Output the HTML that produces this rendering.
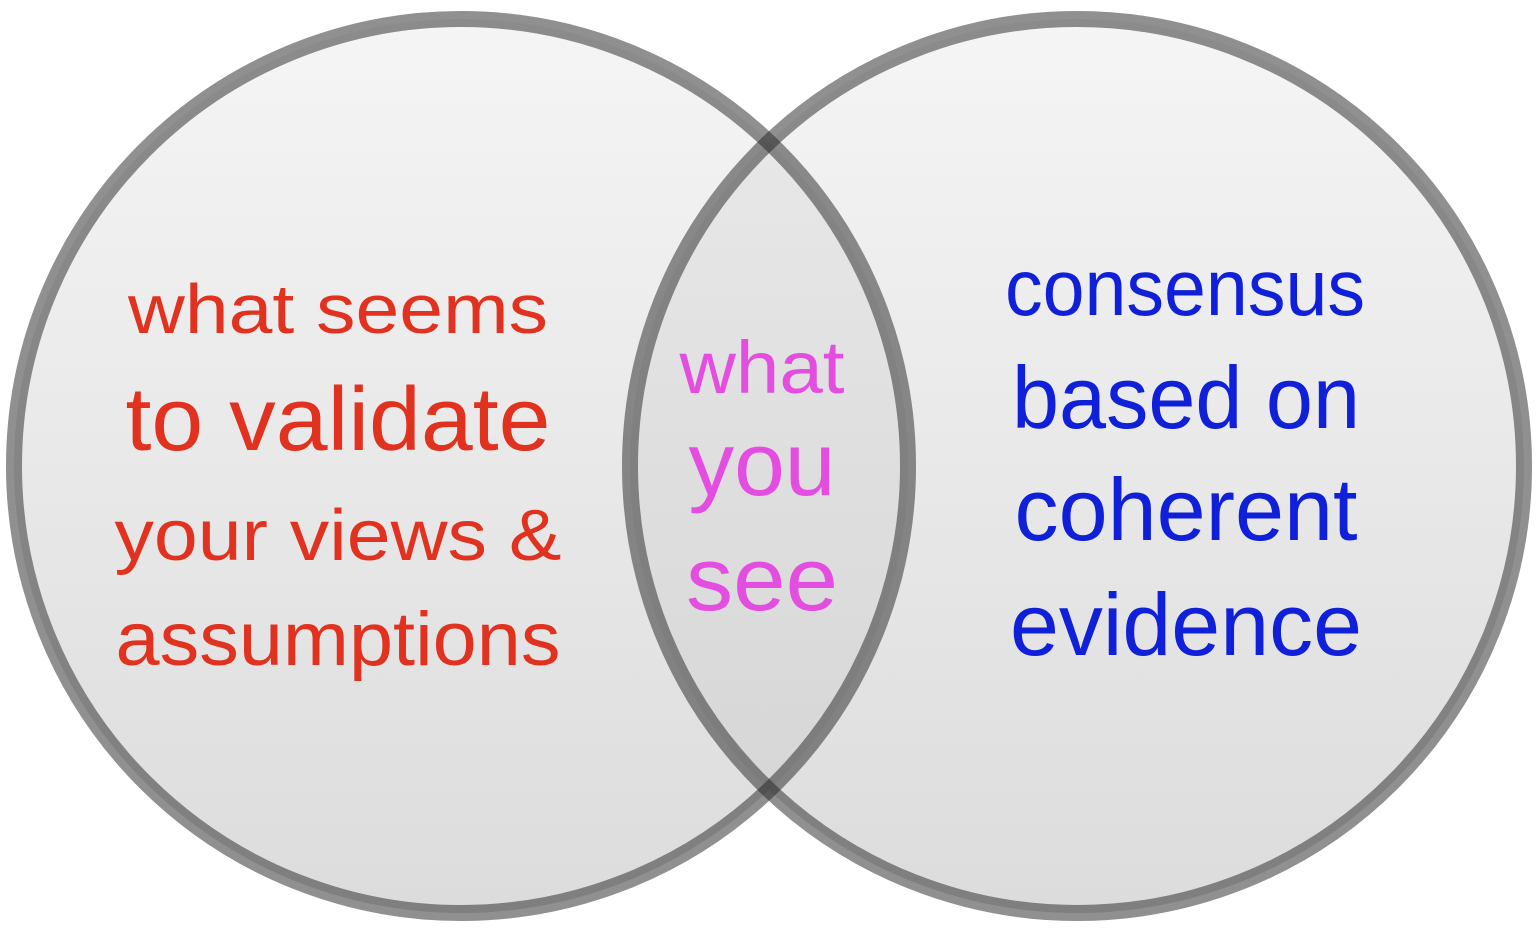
<!DOCTYPE html>
<html><head><meta charset="utf-8"><style>html,body{margin:0;padding:0;background:#fff}svg{display:block}</style></head>
<body>
<svg width="1538" height="935" viewBox="0 0 1538 935" xmlns="http://www.w3.org/2000/svg">
<defs>
<linearGradient id="g" x1="0" y1="0" x2="0" y2="1">
<stop offset="0" stop-color="#f5f5f5"/>
<stop offset="1" stop-color="#dcdcdc"/>
</linearGradient>
<clipPath id="cl"><circle cx="461" cy="466" r="447"/></clipPath>
</defs>
<circle cx="461" cy="466" r="447" fill="url(#g)"/>
<circle cx="1077" cy="466" r="447" fill="url(#g)"/>
<circle cx="1077" cy="466" r="447" fill="#000" fill-opacity="0.04" clip-path="url(#cl)"/>
<circle cx="461" cy="466" r="447" fill="none" stroke="#222" stroke-opacity="0.5" stroke-width="16"/>
<circle cx="1077" cy="466" r="447" fill="none" stroke="#222" stroke-opacity="0.5" stroke-width="16"/>
<g font-family="Liberation Sans, Arial, sans-serif" text-anchor="middle">
<g fill="#e0321f">
<text x="338" y="333" font-size="70" textLength="420" lengthAdjust="spacingAndGlyphs">what seems</text>
<text x="338" y="450" font-size="90" textLength="425" lengthAdjust="spacingAndGlyphs">to validate</text>
<text x="338" y="560" font-size="72" textLength="447" lengthAdjust="spacingAndGlyphs">your views &amp;</text>
<text x="338" y="665" font-size="76" textLength="445" lengthAdjust="spacingAndGlyphs">assumptions</text>
</g>
<g fill="#e44ee0">
<text x="762" y="393" font-size="74" textLength="165" lengthAdjust="spacingAndGlyphs">what</text>
<text x="762" y="495" font-size="90" textLength="147" lengthAdjust="spacingAndGlyphs">you</text>
<text x="762" y="610" font-size="90" textLength="152" lengthAdjust="spacingAndGlyphs">see</text>
</g>
<g fill="#1020d8">
<text x="1185" y="315" font-size="80" textLength="360" lengthAdjust="spacingAndGlyphs">consensus</text>
<text x="1186" y="428" font-size="88" textLength="348" lengthAdjust="spacingAndGlyphs">based on</text>
<text x="1186" y="540" font-size="88" textLength="343" lengthAdjust="spacingAndGlyphs">coherent</text>
<text x="1186" y="655" font-size="88" textLength="352" lengthAdjust="spacingAndGlyphs">evidence</text>
</g>
</g>
</svg>
</body></html>
